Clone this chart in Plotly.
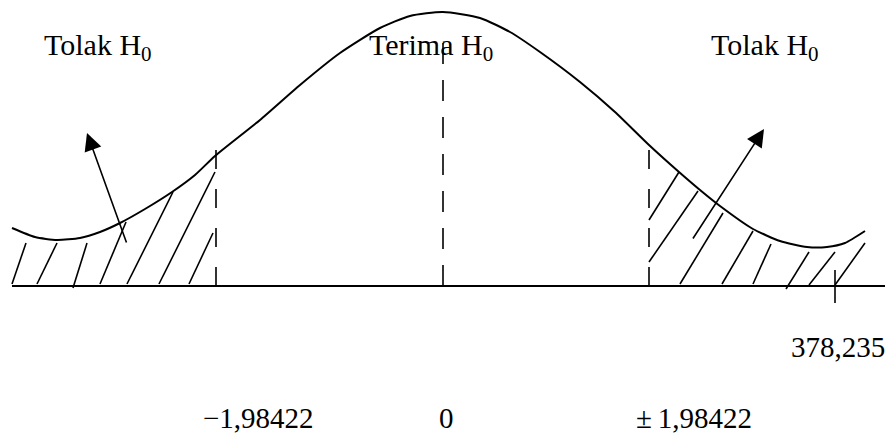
import plotly.graph_objects as go

# points (pixel space, y grows downward)
curve_x = [12, 35, 57, 80, 100, 120, 145, 172, 195, 215, 260, 300, 340, 380, 410, 443,
           480, 510, 540, 580, 615, 649, 679, 700, 720, 753, 780, 807, 827, 845, 865]
curve_y = [228, 237, 240, 238, 232, 223, 209, 192, 175, 156, 120, 85, 53, 28, 16, 12,
           18, 32, 52, 82, 112, 145, 172, 190, 206, 229, 241, 247, 247, 243, 231]

# hatch strokes: (x0, y0, x1, y1)
hatch_left = [(12, 284, 26, 243), (37, 284, 57, 243), (73, 288, 87, 243),
              (100, 284, 126, 222), (127, 284, 173, 192), (159, 284, 215, 172),
              (189, 284, 213, 233)]
hatch_right = [(649, 220, 679, 172), (649, 262, 698, 191), (680, 284, 723, 213),
               (722, 284, 753, 231), (753, 284, 771, 244), (786, 289, 809, 252),
               (809, 285, 835, 252), (835, 285, 865, 243)]

# critical value positions
crit_x = [216, 443, 649]
crit_top = [150, 40, 150]
base_y = 286
base_x = [12, 885]
tick_x = 835
tick_y = [270, 303]

arrows = [(127, 244, 87, 133), (692, 240, 764, 129)]  # tail -> tip

region_labels = ["Tolak H<sub>0</sub>", "Terima H<sub>0</sub>", "Tolak H<sub>0</sub>"]
region_label_x = [42, 367, 709]
region_label_y = 47

value_labels = ["\u22121,98422", "0", "\u00b1\u20091,98422"]
value_label_x = [201, 437, 634]
value_label_y = 418
stat_label = "378,235"
stat_label_xy = (838, 347)

FONT = "Liberation Serif, Times New Roman, serif"

fig = go.Figure()

fig.add_trace(go.Scatter(x=curve_x, y=curve_y, mode="lines",
                         line=dict(color="black", width=2, shape="spline", smoothing=0.6)))

hx, hy = [], []
for x0, y0, x1, y1 in hatch_left + hatch_right:
    hx += [x0, x1, None]
    hy += [y0, y1, None]
fig.add_trace(go.Scatter(x=hx, y=hy, mode="lines", line=dict(color="black", width=1.6)))

fig.add_trace(go.Scatter(x=base_x, y=[base_y, base_y], mode="lines",
                         line=dict(color="black", width=2)))
fig.add_trace(go.Scatter(x=[tick_x, tick_x], y=tick_y, mode="lines",
                         line=dict(color="black", width=1.6)))

for i, cx in enumerate(crit_x):
    dash = "21px,16px" if i == 1 else "19px,20px"
    fig.add_trace(go.Scatter(x=[cx, cx], y=[base_y, crit_top[i]], mode="lines",
                             line=dict(color="black", width=1.6, dash=dash)))

for x0, y0, x1, y1 in arrows:
    fig.add_annotation(x=x1, y=y1, ax=x0, ay=y0, xref="x", yref="y", axref="x", ayref="y",
                       text="", showarrow=True, arrowhead=2, arrowsize=2.2,
                       arrowwidth=1.6, arrowcolor="black")

for txt, lx in zip(region_labels, region_label_x):
    fig.add_annotation(x=lx, y=region_label_y, text=txt, showarrow=False,
                       xanchor="left", yanchor="middle",
                       font=dict(family=FONT, size=30, color="black"))

for txt, lx in zip(value_labels, value_label_x):
    fig.add_annotation(x=lx, y=value_label_y, text=txt, showarrow=False,
                       xanchor="left", yanchor="middle",
                       font=dict(family=FONT, size=29, color="black"))

fig.add_annotation(x=stat_label_xy[0], y=stat_label_xy[1], text=stat_label, showarrow=False,
                   xanchor="center", yanchor="middle",
                   font=dict(family=FONT, size=29, color="black"))

fig.update_layout(width=891, height=435, margin=dict(l=0, r=0, t=0, b=0),
                  plot_bgcolor="white", paper_bgcolor="white", showlegend=False,
                  xaxis=dict(range=[0, 891], visible=False, fixedrange=True),
                  yaxis=dict(range=[435, 0], visible=False, fixedrange=True))

# drop the default 8px page margin so the figure fills the window exactly
fig.write_html("out.html", config={"displayModeBar": False},
               post_script="document.body.style.margin='0';")
